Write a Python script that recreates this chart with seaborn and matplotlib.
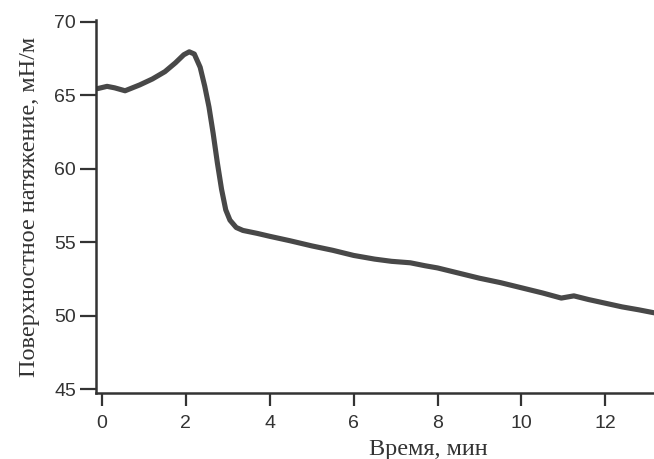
"""Surface tension vs time, recreated with seaborn."""
import matplotlib
matplotlib.use("Agg")
import matplotlib.pyplot as plt
import pandas as pd
import seaborn as sns

# values
time_min = [-0.1, 0.12, 0.3, 0.55, 0.9, 1.2, 1.5, 1.75, 1.95, 2.08, 2.2, 2.34,
            2.45, 2.55, 2.65, 2.75, 2.85, 2.95, 3.05, 3.2, 3.36, 3.7, 4.0,
            4.48, 5.0, 5.5, 6.0, 6.5, 6.9, 7.35, 7.7, 8.0, 8.5, 9.0, 9.5,
            10.0, 10.5, 10.95, 11.25, 11.6, 12.0, 12.4, 12.8, 13.16]
tension = [65.45, 65.6, 65.5, 65.3, 65.7, 66.1, 66.6, 67.2, 67.75, 67.95,
           67.8, 66.9, 65.6, 64.2, 62.4, 60.4, 58.6, 57.2, 56.5, 56.0, 55.8,
           55.6, 55.4, 55.1, 54.75, 54.45, 54.1, 53.85, 53.7, 53.6, 53.4,
           53.25, 52.9, 52.55, 52.25, 51.9, 51.55, 51.2, 51.35, 51.1, 50.85,
           50.6, 50.4, 50.2]
x_ticks = [0, 2, 4, 6, 8, 10, 12]
y_ticks = [45, 50, 55, 60, 65, 70]
x_label = "Время, мин"
y_label = "Поверхностное натяжение, мН/м"

df = pd.DataFrame({"t": time_min, "sigma": tension})

sns.set_style("ticks")
plt.rcParams["font.family"] = ["Liberation Sans", "DejaVu Sans"]

fig = plt.figure(figsize=(6.54, 4.59), dpi=100)
ax = fig.add_axes([0.147, 0.144, 0.853, 0.812])
sns.lineplot(data=df, x="t", y="sigma", ax=ax, color="#484848",
             linewidth=3.7, solid_capstyle="round", solid_joinstyle="round")

ax.set_xlim(-0.14, 13.16)
ax.set_ylim(44.75, 70.1)
ax.set_xticks(x_ticks)
ax.set_yticks(y_ticks)
ax.tick_params(axis="both", labelsize=14, colors="#333333", width=1.6,
               direction="out")
ax.tick_params(axis="x", length=9, pad=7)
ax.tick_params(axis="y", length=11.5, pad=3)

for side in ["top", "right"]:
    ax.spines[side].set_visible(False)
for side in ["left", "bottom"]:
    ax.spines[side].set_linewidth(1.8)
    ax.spines[side].set_color("#333333")

ax.set_xlabel(x_label, family=["Liberation Serif", "DejaVu Serif"],
              fontsize=17.5, color="#333333")
ax.set_ylabel(y_label, family=["Liberation Serif", "DejaVu Serif"],
              fontsize=17.5, color="#333333", labelpad=10)
# the x label sits right of centre in the original
ax.xaxis.set_label_coords(0.595, -0.125)

fig.savefig("out.png", dpi=100)
plt.close(fig)
